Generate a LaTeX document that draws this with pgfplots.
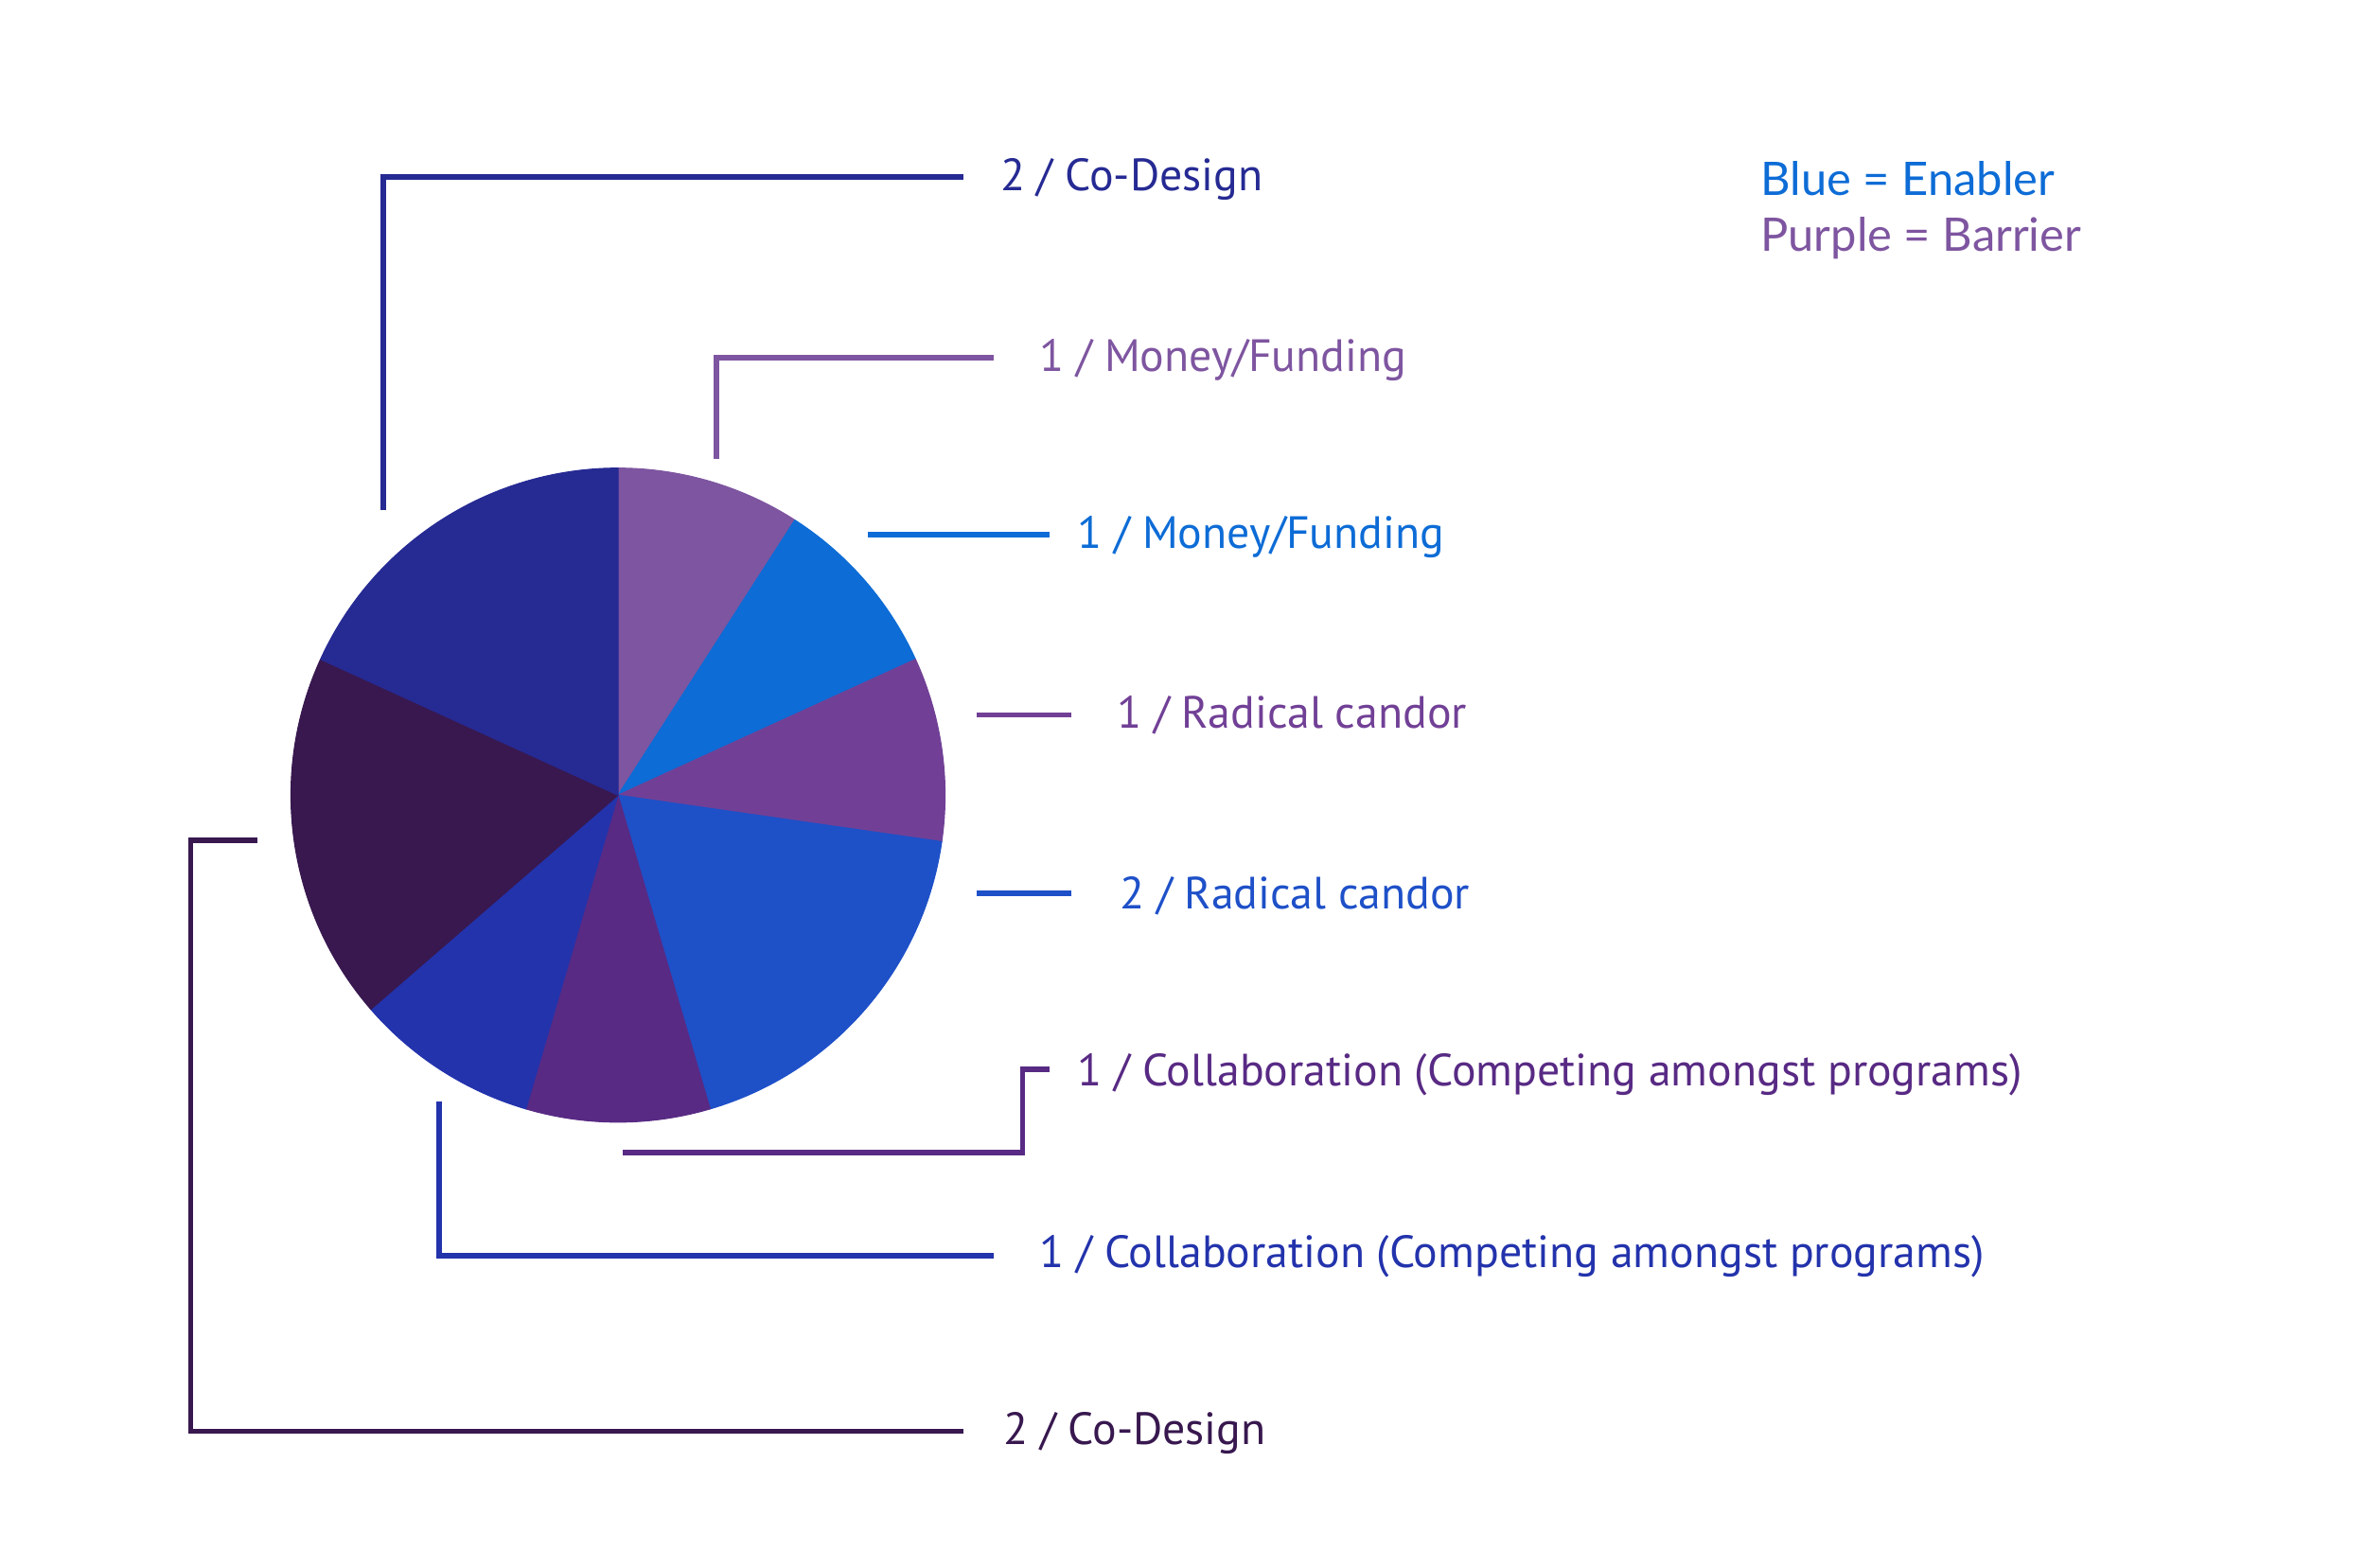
\documentclass[border=0pt]{standalone}
\usepackage{pgfplots}
\pgfplotsset{compat=1.18}
\usepackage{fontspec}
\setmainfont{PT Sans}
\newfontfamily\legfont{Lato}

\definecolor{cA}{HTML}{262A93}
\definecolor{cB}{HTML}{7E55A0}
\definecolor{cC}{HTML}{0D6CD6}
\definecolor{cD}{HTML}{714096}
\definecolor{cE}{HTML}{1E50C8}
\definecolor{cF}{HTML}{582A84}
\definecolor{cG}{HTML}{2333AC}
\definecolor{cH}{HTML}{38184F}

\begin{document}
\begin{tikzpicture}
\begin{axis}[
    x=0.016cm, y=0.016cm,
    xmin=0, xmax=1562, ymin=0, ymax=1035,
    scale only axis, hide axis, clip=false,
  ]
  \path (axis cs:0,0) rectangle (axis cs:1562,1035);

  % pie: counts clockwise from 12 o'clock, total 11
  \def\acc{0}
  \foreach \v/\c in {1/cB, 1/cC, 1/cD, 2/cE, 1/cF, 1/cG, 2/cH, 2/cA}{
    \pgfmathsetmacro\a{90-\acc*360/11}
    \pgfmathsetmacro\b{90-(\acc+\v)*360/11}
    \edef\temp{\noexpand\filldraw[\c, line width=0.3pt, line join=round] (axis cs:408,510) -- ++(\a:3.456cm)
      arc[start angle=\a, end angle=\b, radius=3.456cm] -- cycle;}
    \temp
    \pgfmathsetmacro\n{\acc+\v}\xdef\acc{\n}
  }

  % leader lines
  \begin{scope}[line width=1.6pt]
    \draw[cA] (axis cs:253,698) |- (axis cs:636,918);
    \draw[cB] (axis cs:473,732) |- (axis cs:656,799);
    \draw[cC] (axis cs:573,682) -- (axis cs:693,682);
    \draw[cD] (axis cs:645,563) -- (axis cs:707,563);
    \draw[cE] (axis cs:645,445) -- (axis cs:707,445);
    \draw[cF] (axis cs:411,274) -| (axis cs:675,329) -- (axis cs:693,329);
    \draw[cG] (axis cs:290,308) |- (axis cs:656,206);
    \draw[cH] (axis cs:170,480) -- (axis cs:126,480) -- (axis cs:126,90) -- (axis cs:636,90);
  \end{scope}

  % labels
  \begin{scope}[every node/.style={anchor=base west, inner sep=0pt, font=\fontsize{13.6}{17}\selectfont}]
    \node[text=cA] at (axis cs:660,909) {2 / Co-Design};
    \node[text=cB] at (axis cs:686,790) {1 / Money/Funding};
    \node[text=cC] at (axis cs:711,673) {1 / Money/Funding};
    \node[text=cD] at (axis cs:737,554) {1 / Radical candor};
    \node[text=cE] at (axis cs:739,435) {2 / Radical candor};
    \node[text=cF] at (axis cs:711,318) {1 / Collaboration (Competing amongst programs)};
    \node[text=cG] at (axis cs:686,198) {1 / Collaboration (Competing amongst programs)};
    \node[text=cH] at (axis cs:662,81) {2 / Co-Design};
    \node[text=cC, font=\legfont\fontsize{13.9}{17}\selectfont] at (axis cs:1162,906) {Blue = Enabler};
    \node[text=cB, font=\legfont\fontsize{13.9}{17}\selectfont] at (axis cs:1162,869) {Purple = Barrier};
  \end{scope}
\end{axis}
\end{tikzpicture}
\end{document}
